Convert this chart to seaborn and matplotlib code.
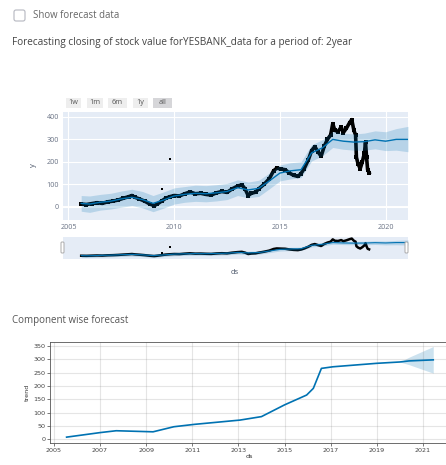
import matplotlib
matplotlib.use("Agg")
import matplotlib.pyplot as plt
import seaborn as sns
from matplotlib import transforms as mtrans, patches

# ---------------- data ----------------
act_year = [2005.60, 2005.85, 2006.10, 2006.35, 2006.60, 2006.85, 2007.10, 2007.35, 2007.60, 2007.85,
            2008.00, 2008.15, 2008.35, 2008.60, 2008.85, 2009.05, 2009.20, 2009.40, 2009.60, 2009.80,
            2010.00, 2010.25, 2010.50, 2010.75, 2011.00, 2011.25, 2011.50, 2011.75, 2012.00, 2012.25,
            2012.50, 2012.75, 2013.00, 2013.20, 2013.35, 2013.50, 2013.65, 2013.85, 2014.00, 2014.25,
            2014.50, 2014.70, 2014.85, 2015.05, 2015.25, 2015.45, 2015.65, 2015.85, 2016.00, 2016.15,
            2016.35, 2016.50, 2016.65, 2016.80, 2016.95, 2017.10, 2017.25, 2017.40, 2017.50, 2017.60,
            2017.75, 2017.90, 2018.00, 2018.15, 2018.30, 2018.40, 2018.50, 2018.58, 2018.62, 2018.70,
            2018.80, 2018.90, 2019.00, 2019.05, 2019.10, 2019.15, 2019.22]
act_close = [12, 10, 14, 18, 15, 22, 25, 30, 38, 45,
             50, 42, 35, 25, 12, 5, 12, 25, 38, 45,
             50, 48, 58, 66, 58, 60, 55, 52, 62, 68,
             64, 80, 92, 98, 80, 50, 60, 65, 80, 100,
             125, 160, 172, 168, 165, 150, 140, 135, 148, 170,
             210, 250, 268, 245, 225, 270, 300, 320, 370, 340,
             335, 355, 330, 350, 375, 388, 340, 320, 220, 190,
             170, 200, 240, 288, 220, 165, 152]
outlier_year = [2009.40, 2009.80]
outlier_close = [79, 212]

fc_year = [2005.6, 2006.0, 2006.5, 2007.0, 2007.5, 2008.0, 2008.5, 2009.0, 2009.5, 2010.0,
           2010.5, 2011.0, 2011.5, 2012.0, 2012.5, 2013.0, 2013.5, 2014.0, 2014.5, 2015.0,
           2015.5, 2016.0, 2016.5, 2017.0, 2017.5, 2018.0, 2018.5, 2019.0, 2019.5, 2020.0,
           2020.5, 2021.06]
fc_yhat = [15, 12, 20, 25, 35, 42, 32, 15, 30, 48,
           55, 60, 58, 62, 68, 85, 75, 82, 115, 150,
           160, 165, 240, 262, 300, 292, 288, 290, 298, 292,
           300, 300]
fc_lower = [-20, -25, -15, -10, -2, 5, -5, -22, -6, 12,
            20, 24, 22, 26, 32, 50, 40, 46, 80, 115,
            124, 130, 204, 226, 264, 256, 252, 252, 258, 250,
            252, 245]
fc_upper = [50, 48, 55, 60, 70, 78, 68, 50, 66, 84,
            90, 96, 94, 98, 104, 120, 110, 118, 150, 186,
            196, 200, 276, 298, 336, 328, 324, 328, 338, 334,
            348, 358]

tr_year = [2005.55, 2007.0, 2007.7, 2009.3, 2010.2, 2011.1, 2013.07, 2014.0, 2015.0, 2015.96,
           2016.25, 2016.6, 2017.1, 2019.0, 2020.0, 2020.4, 2021.45]
tr_val = [8, 25, 32, 28, 47, 56, 72, 85, 129, 166,
          191, 266, 272, 285, 290, 294, 298]
tr_lower = [8, 25, 32, 28, 47, 56, 72, 85, 129, 166,
            191, 266, 272, 285, 290, 280, 248]
tr_upper = [8, 25, 32, 28, 47, 56, 72, 85, 129, 166,
            191, 266, 272, 285, 290, 308, 348]

main_xticks = [2005, 2010, 2015, 2020]
main_yticks = [0, 100, 200, 300, 400]
comp_xticks = [2005, 2007, 2009, 2011, 2013, 2015, 2017, 2019, 2021]
comp_yticks = [0, 50, 100, 150, 200, 250, 300, 350]
buttons = ["1w", "1m", "6m", "1y", "all"]

# ---------------- figure ----------------
W, H = 446, 465
fig = plt.figure(figsize=(W / 100, H / 100), dpi=100)
fig.patch.set_facecolor("white")
PX = mtrans.Affine2D().scale(1 / 100, -1 / 100).translate(0, H / 100) + fig.dpi_scale_trans
UI = "Open Sans"


def ax_at(x0, y0, x1, y1):
    return fig.add_axes([x0 / W, 1 - y1 / H, (x1 - x0) / W, (y1 - y0) / H])


def ptext(x, y, s, **kw):
    kw.setdefault("family", UI)
    return fig.text(x, y, s, transform=PX, **kw)


# checkbox + texts
fig.add_artist(patches.FancyBboxPatch((14, 10), 11, 11, boxstyle="round,pad=0,rounding_size=2",
                                      transform=PX, fc="white", ec="#b5b7c0", lw=0.8))
ptext(33, 15.5, "Show forecast data", fontsize=6.9, color="#666666", va="center")
ptext(12, 42, "Forecasting closing of stock value forYESBANK_data for a period of: 2year",
      fontsize=7.2, color="#444444", va="center")
ptext(12, 320, "Component wise forecast", fontsize=7.0, color="#555555", va="center")

# range selector buttons
btn_spans = [(66, 81), (87, 103), (108, 127), (133, 148), (153, 172)]
for lab, (bx0, bx1) in zip(buttons, btn_spans):
    fc = "#d6d6d9" if lab == "all" else "#eeeeee"
    fig.add_artist(patches.Rectangle((bx0, 98), bx1 - bx0, 10, transform=PX, fc=fc, ec="none"))
    ptext((bx0 + bx1) / 2, 103, lab, fontsize=5.2, color="#555555", ha="center", va="center")


def draw_forecast(ax, big=True):
    ax.set_facecolor("#E5ECF6")
    sns.lineplot(x=act_year, y=act_close, color="black", lw=2.6 if big else 1.8, ax=ax, zorder=2)
    if big:
        sns.scatterplot(x=act_year, y=act_close, color="black", marker="s", s=8, lw=0, ax=ax, zorder=2)
    sns.scatterplot(x=outlier_year, y=outlier_close, color="black", marker="s",
                    s=4 if big else 3, lw=0, ax=ax, zorder=2)
    ax.fill_between(fc_year, fc_lower, fc_upper, color="#0072B2", alpha=0.2, lw=0, zorder=3)
    sns.lineplot(x=fc_year, y=fc_yhat, color="#0072B2", lw=1.0 if big else 0.8, ax=ax, zorder=4)
    ax.set_xlim(2004.74, 2021.06)
    ax.set_ylim(-59, 422)
    for s in ax.spines.values():
        s.set_visible(False)
    ax.set_xlabel("")
    ax.set_ylabel("")


# main plotly-like chart
axm = ax_at(63, 112, 408, 220)
draw_forecast(axm, True)
axm.set_xticks(main_xticks)
axm.set_xticklabels([str(t) for t in main_xticks])
axm.set_yticks(main_yticks)
axm.set_yticklabels([str(t) for t in main_yticks])
axm.grid(True, color="white", lw=0.8)
axm.axhline(0, color="white", lw=1.4, zorder=1)
axm.set_axisbelow(True)
axm.tick_params(length=0, labelsize=5.2, colors="#6a7385", pad=3)
for t in axm.get_xticklabels() + axm.get_yticklabels():
    t.set_family(UI)

# range slider
axs = ax_at(63, 237, 408, 259)
draw_forecast(axs, False)
axs.set_xticks([])
axs.set_yticks([])
for hx in (61, 405):
    fig.add_artist(patches.FancyBboxPatch((hx, 242), 3, 11, boxstyle="round,pad=0,rounding_size=1",
                                          transform=PX, fc="white", ec="#aaaaaa", lw=0.7))

ptext(33, 165, "y", fontsize=5.5, color="#4a5568", ha="center", va="center", rotation=90)
ptext(235, 273, "ds", fontsize=5.5, color="#4a5568", ha="center", va="center")

# component (matplotlib) chart
axb = ax_at(50, 342, 448, 443)
axb.fill_between(tr_year, tr_lower, tr_upper, color="#0072B2", alpha=0.2, lw=0)
sns.lineplot(x=tr_year, y=tr_val, color="#0072B2", lw=1.2, ax=axb)
axb.set_xlim(2004.83, 2022.09)
axb.set_ylim(-14, 365)
axb.set_xticks(comp_xticks)
axb.set_xticklabels([str(t) for t in comp_xticks])
axb.set_yticks(comp_yticks)
axb.set_yticklabels([str(t) for t in comp_yticks])
axb.grid(True, which="major", color="gray", ls="-", lw=0.8, alpha=0.2)
axb.tick_params(labelsize=4.6, length=2, width=0.5, pad=1.5, colors="#444444")
for s in axb.spines.values():
    s.set_linewidth(0.6)
    s.set_color("#555555")
axb.set_xlabel("ds", fontsize=4.6, labelpad=1, color="#333333")
axb.set_ylabel("trend", fontsize=4.6, labelpad=2, color="#333333")

fig.savefig("out.png", dpi=100)
